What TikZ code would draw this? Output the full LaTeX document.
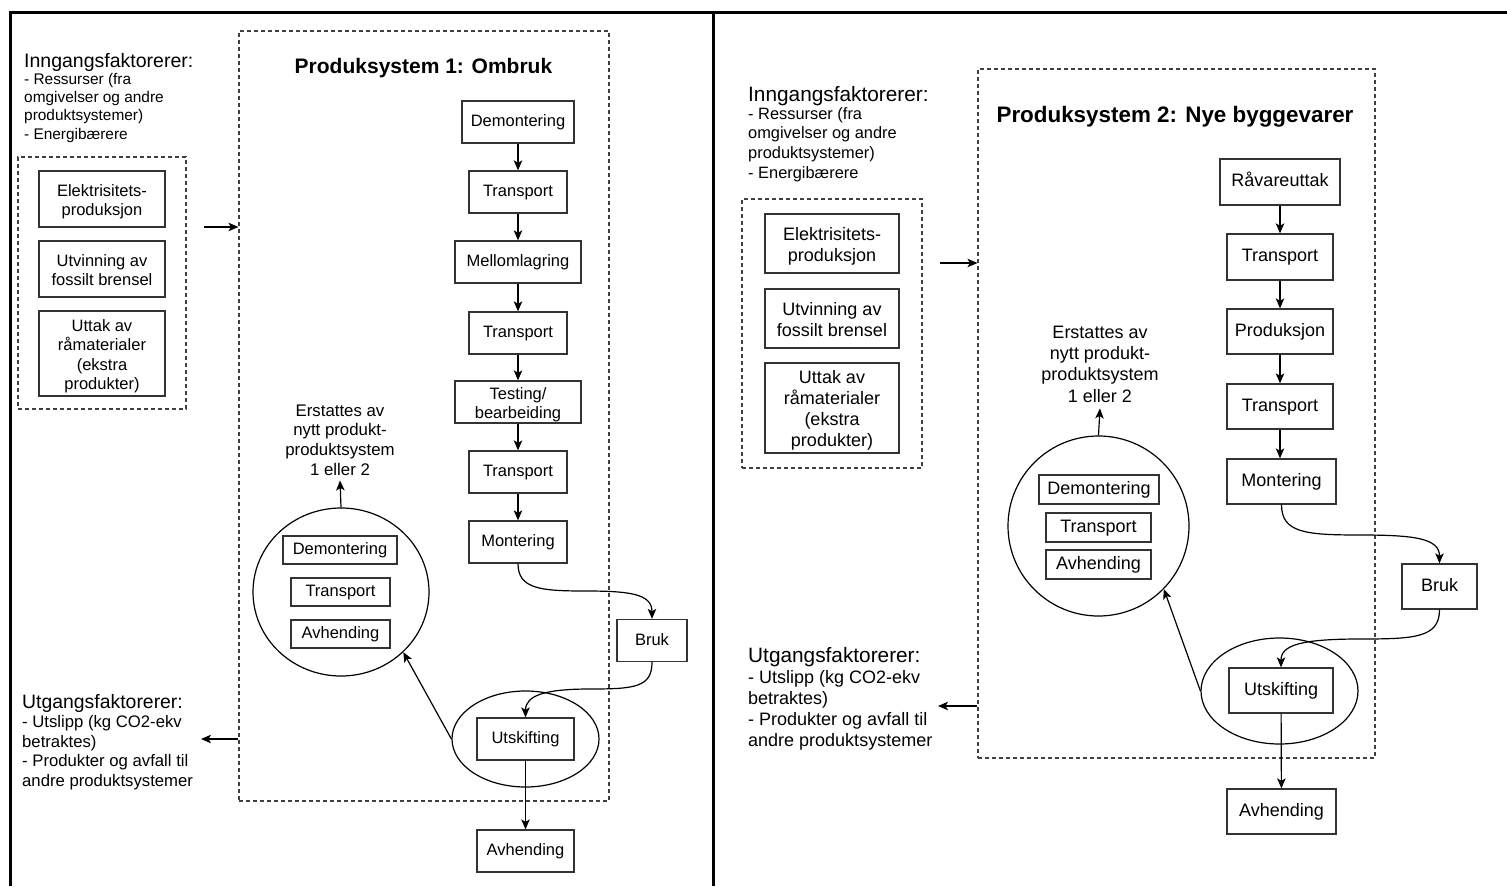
\documentclass[tikz,border=0pt]{standalone}
\usepackage{fontspec}
\setmainfont{Liberation Sans}
\usetikzlibrary{arrows.meta,shapes.geometric}
\newcommand{\mltxt}[1]{\raisebox{-3pt}[\height][\depth]{\begin{tabular}{@{}c@{}}#1\end{tabular}}}
\begin{document}
\begin{tikzpicture}[x=1pt,y=-1pt,
 box/.style={draw=black!80, line width=1.3pt, fill=white, inner sep=0pt, align=center},
 sbox/.style={box, text height=1.05em, text depth=0.15em},
 fl/.style={font=\fontsize{16.5}{19.5}\selectfont},
 fr/.style={font=\fontsize{18}{21}\selectfont},
 dbox/.style={draw=black!75, line width=1.1pt, dash pattern=on 4pt off 3pt, inner sep=0pt},
 ring/.style={draw=black, line width=1.2pt, ellipse, inner sep=0pt},
 arr/.style={draw=black, line width=1.2pt, -{Stealth[length=10pt,width=8.5pt,inset=2.5pt]}},
 frame/.style={line width=3pt, draw=black},
 txt/.style={inner sep=0pt, align=left}]
\useasboundingbox (0,0) rectangle (1507,886);
% frame
\draw[frame] (10,886) -- (10,12) -- (1507,12);
\draw[frame] (713,12) -- (713,886);

% ================= LEFT PANEL =================
\node[txt, anchor=base west, font=\fontsize{19.5}{22}\selectfont] (ih1) at (24,67) {Inngangsfaktorerer:};
\node[txt, anchor=north west, font=\fontsize{15.4}{18.3}\selectfont] (ib1) at (24,73) {- Ressurser (fra\\omgivelser og andre\\produktsystemer)\\- Energibærere};

\node[dbox, minimum width=168pt, minimum height=252pt] (ins1) at (102,283) {};
\node[box, fl, minimum width=126pt, minimum height=56pt] (el1) at (102,199) {\mltxt{Elektrisitets-\\produksjon}};
\node[box, fl, minimum width=126pt, minimum height=56pt] (fo1) at (102,269) {\mltxt{Utvinning av\\fossilt brensel}};
\node[box, fl, minimum width=126pt, minimum height=85pt] (ra1) at (102,353.5) {\mltxt{Uttak av\\råmaterialer\\(ekstra\\produkter)}};

\node[dbox, minimum width=370pt, minimum height=770pt] (pb1) at (424,416) {};
\node[inner sep=0pt, font=\bfseries\fontsize{21}{24}\selectfont] (ti1) at (423.5,68) {Produksystem 1: Ombruk};

\node[sbox, fl, minimum width=112pt, minimum height=42pt] (d1) at (518,122) {Demontering};
\node[sbox, fl, minimum width=98pt, minimum height=42pt] (t1) at (518,192) {Transport};
\node[sbox, fl, minimum width=126pt, minimum height=42pt] (m1) at (518,262) {Mellomlagring};
\node[sbox, fl, minimum width=98pt, minimum height=42pt] (t2) at (518,333) {Transport};
\node[box, fl, minimum width=126pt, minimum height=42pt] (tb1) at (518,402) {\mltxt{Testing/\\bearbeiding}};
\node[sbox, fl, minimum width=98pt, minimum height=42pt] (t3) at (518,472) {Transport};
\node[sbox, fl, minimum width=98pt, minimum height=42pt] (mo1) at (518,542) {Montering};
\node[sbox, fl, minimum width=70pt, minimum height=42pt] (br1) at (652,640.5) {Bruk};

\node[ring, minimum width=147pt, minimum height=96pt] (el1c) at (525.5,739) {};
\node[sbox, fl, minimum width=97pt, minimum height=42pt] (u1) at (525.5,739) {Utskifting};
\node[sbox, fl, minimum width=97pt, minimum height=42pt] (av1) at (525.5,851) {Avhending};

\node[ring, minimum width=176pt, minimum height=168pt] (c1) at (341,592) {};
\node[sbox, fl, minimum width=114pt, minimum height=28pt] (cd1) at (340,550) {Demontering};
\node[sbox, fl, minimum width=99pt, minimum height=28pt] (ct1) at (340.5,592) {Transport};
\node[sbox, fl, minimum width=99pt, minimum height=28pt] (ca1) at (340.5,634) {Avhending};

\node[inner sep=0pt, align=center, font=\fontsize{16.8}{19.6}\selectfont] (er1) at (340,440) {Erstattes av\\nytt produkt-\\produktsystem\\1 eller 2};

\node[txt, anchor=base west, font=\fontsize{19.4}{22}\selectfont] (oh1) at (22,708) {Utgangsfaktorerer:};
\node[txt, anchor=north west, font=\fontsize{16.7}{19.7}\selectfont] (ob1) at (22,715) {- Utslipp (kg CO2-ekv\\betraktes)\\- Produkter og avfall til\\andre produktsystemer};

\coordinate (in1) at (204,227);
\coordinate (out1) at (201,739);
\draw[arr] (in1) -- (in1 -| pb1.west);
\draw[arr] (out1 -| pb1.west) -- (out1);

\draw[arr] (d1) -- (t1);
\draw[arr] (t1) -- (m1);
\draw[arr] (m1) -- (t2);
\draw[arr] (t2) -- (tb1);
\draw[arr] (tb1) -- (t3);
\draw[arr] (t3) -- (mo1);
\draw[arr] (mo1.south) .. controls +(0,25) and +(-45,0) .. (585,591) .. controls +(45,0) and +(0,-25) .. (br1.north);
\draw[arr] (br1.south) .. controls +(0,25) and +(45,0) .. (590,689) .. controls +(-45,0) and +(0,-22) .. (u1.north);
\draw[arr] (u1) -- (av1);
\draw[arr] (el1c.west) -- (c1.-44);
\draw[arr] (c1.north) -- ([yshift=-5pt]er1.south);

% ================= RIGHT PANEL =================
\node[txt, anchor=base west, font=\fontsize{20.8}{24}\selectfont] (ih2) at (748,101) {Inngangsfaktorerer:};
\node[txt, anchor=north west, font=\fontsize{16.4}{19.7}\selectfont] (ib2) at (748,107) {- Ressurser (fra\\omgivelser og andre\\produktsystemer)\\- Energibærere};

\node[dbox, minimum width=180pt, minimum height=269pt] (ins2) at (832,333.5) {};
\node[box, fr, minimum width=134pt, minimum height=59pt] (el2) at (832,243.5) {\mltxt{Elektrisitets-\\produksjon}};
\node[box, fr, minimum width=134pt, minimum height=59pt] (fo2) at (832,318.5) {\mltxt{Utvinning av\\fossilt brensel}};
\node[box, fr, minimum width=134pt, minimum height=90pt] (ra2) at (832,408) {\mltxt{Uttak av\\råmaterialer\\(ekstra\\produkter)}};

\node[dbox, minimum width=397pt, minimum height=689pt] (pb2) at (1176.5,413.5) {};
\node[inner sep=0pt, font=\bfseries\fontsize{22.4}{26}\selectfont] (ti2) at (1175,117) {Produksystem 2: Nye byggevarer};

\node[sbox, fr, minimum width=120pt, minimum height=46pt] (rv2) at (1280,182) {Råvareuttak};
\node[sbox, fr, minimum width=106pt, minimum height=46pt] (t4) at (1280,257) {Transport};
\node[sbox, fr, minimum width=106pt, minimum height=45pt] (pr2) at (1280,331.5) {Produksjon};
\node[sbox, fr, minimum width=106pt, minimum height=45pt] (t5) at (1280,406.5) {Transport};
\node[sbox, fr, minimum width=109pt, minimum height=45pt] (mo2) at (1281.5,481.5) {Montering};
\node[sbox, fr, minimum width=75pt, minimum height=45pt] (br2) at (1439.5,586.5) {Bruk};

\node[ring, minimum width=157pt, minimum height=106pt] (el2c) at (1279.5,691) {};
\node[sbox, fr, minimum width=104pt, minimum height=45pt] (u2) at (1281,690.5) {Utskifting};
\node[sbox, fr, minimum width=109pt, minimum height=45pt] (av2) at (1281.5,811.5) {Avhending};

\node[ring, minimum width=181pt, minimum height=180pt] (c2) at (1098.5,526) {};
\node[sbox, fr, minimum width=120pt, minimum height=29pt] (cd2) at (1099,489.5) {Demontering};
\node[sbox, fr, minimum width=105pt, minimum height=29pt] (ct2) at (1098.5,527.5) {Transport};
\node[sbox, fr, minimum width=105pt, minimum height=29pt] (ca2) at (1098.5,564.5) {Avhending};

\node[inner sep=0pt, align=center, font=\fontsize{18}{21.3}\selectfont] (er2) at (1100,364) {Erstattes av\\nytt produkt-\\produktsystem\\1 eller 2};

\node[txt, anchor=base west, font=\fontsize{20.8}{24}\selectfont] (oh2) at (748,662) {Utgangsfaktorerer:};
\node[txt, anchor=north west, font=\fontsize{18}{21}\selectfont] (ob2) at (748,670) {- Utslipp (kg CO2-ekv\\betraktes)\\- Produkter og avfall til\\andre produktsystemer};

\coordinate (in2) at (940,263);
\coordinate (out2) at (938,706);
\draw[arr] (in2) -- (in2 -| pb2.west);
\draw[arr] (out2 -| pb2.west) -- (out2);

\draw[arr] (rv2) -- (t4);
\draw[arr] (t4) -- (pr2);
\draw[arr] (pr2) -- (t5);
\draw[arr] (t5.south) -- (mo2.north -| t5.south);
\draw[arr] (mo2.south) .. controls +(0,28) and +(-55,0) .. (1360,535) .. controls +(55,0) and +(0,-25) .. (br2.north);
\draw[arr] (br2.south) .. controls +(0,28) and +(55,0) .. (1360,639) .. controls +(-60,0) and +(0,-22) .. (u2.north);
\draw[arr] (u2) -- (av2);
\draw[arr] (el2c.west) -- (c2.-44);
\draw[arr] (c2.north) -- ([yshift=-6pt]er2.south);
\end{tikzpicture}
\end{document}
